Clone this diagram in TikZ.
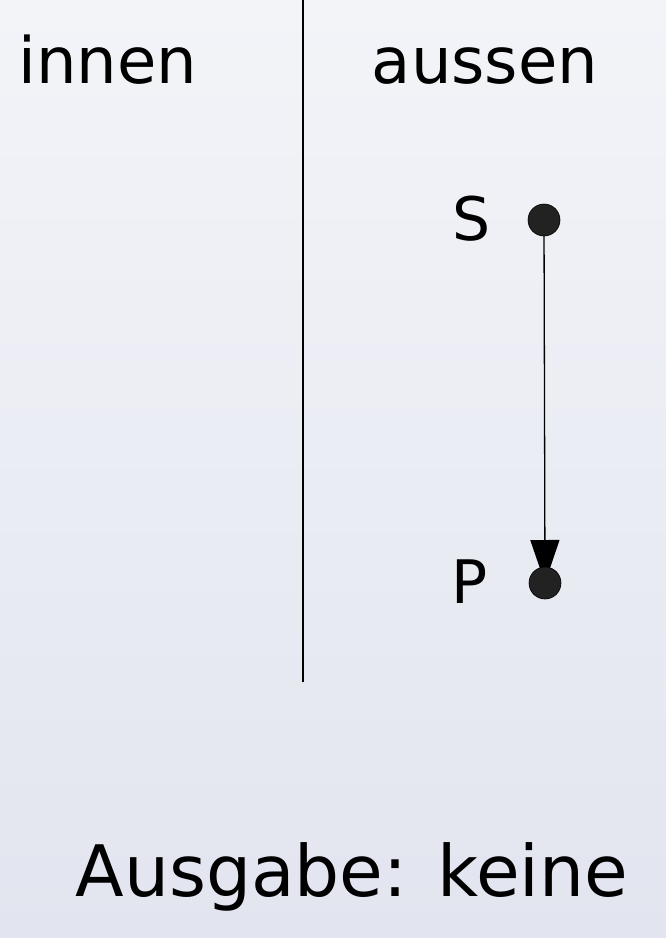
\documentclass[tikz,border=0pt]{standalone}
\usepackage{fontspec}
\setmainfont{DejaVu Sans}
\usetikzlibrary{arrows.meta}
\definecolor{bgtop}{HTML}{F3F4F8}
\definecolor{bgbot}{HTML}{E2E5EF}
\definecolor{dotgray}{HTML}{222222}
\tikzset{
  dotnode/.style={circle, fill=dotgray, draw=black, line width=0.6pt, minimum size=32pt, inner sep=0pt},
  lbl/.style={anchor=base, inner sep=0pt, font=\fontsize{#1}{#1}\selectfont},
}

\begin{document}
\begin{tikzpicture}[x=1pt, y=-1pt]
			%%%%% START %%%%%
			
			\shade[top color=bgtop, bottom color=bgbot] (0, 0) rectangle (666, 938);
			\useasboundingbox (0, 0) rectangle (666, 938);
			
			\coordinate (top) at (303, 0);
			\coordinate (bottom) at (303, 682);
			\draw[line width=1.2pt] (top) -- (bottom);
			
			\node[lbl=64] (innen) at (108, 83) {innen};
			\node[lbl=64] (aussen) at (485, 83) {aussen};
			
			\node[lbl=60] (labelS) at (472, 240) {S};
			\node[lbl=60] (labelP) at (470, 603) {P};
			
			\coordinate (S) at (544, 220);
			\coordinate (P) at (545, 583);
			\draw[line width=1.3pt, -{Triangle[width=29pt, length=43pt]}] (S) -- (P);
			\node[dotnode] (dotS) at (S) {};
			\node[dotnode] (dotP) at (P) {};
			
			\node[lbl=71] (output) at (352, 896) {Ausgabe: keine};
			
			%%%%% END %%%%%
\end{tikzpicture}
\end{document}
